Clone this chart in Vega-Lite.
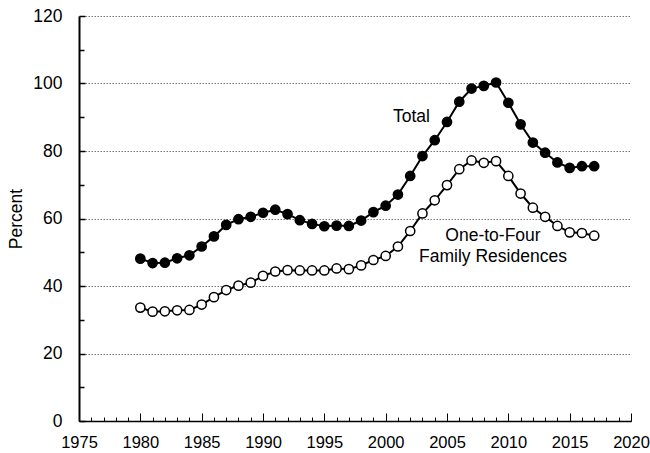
{
  "$schema": "https://vega.github.io/schema/vega-lite/v6.json",
  "width": 552,
  "height": 405,
  "autosize": {"type": "none"},
  "padding": {"left": 79, "top": 16, "right": 19, "bottom": 32},
  "background": "white",
  "config": {
    "view": {"stroke": null},
    "font": "Liberation Sans",
    "axis": {"labelFont": "Liberation Sans", "titleFont": "Liberation Sans", "labelColor": "black", "titleColor": "black", "domainColor": "black", "tickColor": "black", "labelFlush": false, "labelOverlap": false}
  },
  "resolve": {"axis": {"x": "independent", "y": "independent"}},
  "datasets": {
    "series": [
      {"year": 1980, "series": "Total", "value": 48.1},
      {"year": 1981, "series": "Total", "value": 46.8},
      {"year": 1982, "series": "Total", "value": 46.9},
      {"year": 1983, "series": "Total", "value": 48.2},
      {"year": 1984, "series": "Total", "value": 49.1},
      {"year": 1985, "series": "Total", "value": 51.7},
      {"year": 1986, "series": "Total", "value": 54.7},
      {"year": 1987, "series": "Total", "value": 58.1},
      {"year": 1988, "series": "Total", "value": 59.8},
      {"year": 1989, "series": "Total", "value": 60.5},
      {"year": 1990, "series": "Total", "value": 61.7},
      {"year": 1991, "series": "Total", "value": 62.6},
      {"year": 1992, "series": "Total", "value": 61.3},
      {"year": 1993, "series": "Total", "value": 59.5},
      {"year": 1994, "series": "Total", "value": 58.4},
      {"year": 1995, "series": "Total", "value": 57.7},
      {"year": 1996, "series": "Total", "value": 57.9},
      {"year": 1997, "series": "Total", "value": 57.8},
      {"year": 1998, "series": "Total", "value": 59.4},
      {"year": 1999, "series": "Total", "value": 61.9},
      {"year": 2000, "series": "Total", "value": 63.8},
      {"year": 2001, "series": "Total", "value": 67.1},
      {"year": 2002, "series": "Total", "value": 72.6},
      {"year": 2003, "series": "Total", "value": 78.5},
      {"year": 2004, "series": "Total", "value": 83.2},
      {"year": 2005, "series": "Total", "value": 88.6},
      {"year": 2006, "series": "Total", "value": 94.6},
      {"year": 2007, "series": "Total", "value": 98.5},
      {"year": 2008, "series": "Total", "value": 99.3},
      {"year": 2009, "series": "Total", "value": 100.3},
      {"year": 2010, "series": "Total", "value": 94.3},
      {"year": 2011, "series": "Total", "value": 87.9},
      {"year": 2012, "series": "Total", "value": 82.5},
      {"year": 2013, "series": "Total", "value": 79.5},
      {"year": 2014, "series": "Total", "value": 76.6},
      {"year": 2015, "series": "Total", "value": 75.0},
      {"year": 2016, "series": "Total", "value": 75.5},
      {"year": 2017, "series": "Total", "value": 75.5},
      {"year": 1980, "series": "One-to-Four", "value": 33.6},
      {"year": 1981, "series": "One-to-Four", "value": 32.4},
      {"year": 1982, "series": "One-to-Four", "value": 32.5},
      {"year": 1983, "series": "One-to-Four", "value": 32.8},
      {"year": 1984, "series": "One-to-Four", "value": 32.9},
      {"year": 1985, "series": "One-to-Four", "value": 34.5},
      {"year": 1986, "series": "One-to-Four", "value": 36.7},
      {"year": 1987, "series": "One-to-Four", "value": 38.8},
      {"year": 1988, "series": "One-to-Four", "value": 40.1},
      {"year": 1989, "series": "One-to-Four", "value": 41.0},
      {"year": 1990, "series": "One-to-Four", "value": 43.0},
      {"year": 1991, "series": "One-to-Four", "value": 44.3},
      {"year": 1992, "series": "One-to-Four", "value": 44.7},
      {"year": 1993, "series": "One-to-Four", "value": 44.6},
      {"year": 1994, "series": "One-to-Four", "value": 44.6},
      {"year": 1995, "series": "One-to-Four", "value": 44.6},
      {"year": 1996, "series": "One-to-Four", "value": 45.2},
      {"year": 1997, "series": "One-to-Four", "value": 45.0},
      {"year": 1998, "series": "One-to-Four", "value": 46.1},
      {"year": 1999, "series": "One-to-Four", "value": 47.7},
      {"year": 2000, "series": "One-to-Four", "value": 48.9},
      {"year": 2001, "series": "One-to-Four", "value": 51.7},
      {"year": 2002, "series": "One-to-Four", "value": 56.3},
      {"year": 2003, "series": "One-to-Four", "value": 61.5},
      {"year": 2004, "series": "One-to-Four", "value": 65.4},
      {"year": 2005, "series": "One-to-Four", "value": 69.9},
      {"year": 2006, "series": "One-to-Four", "value": 74.6},
      {"year": 2007, "series": "One-to-Four", "value": 77.2},
      {"year": 2008, "series": "One-to-Four", "value": 76.5},
      {"year": 2009, "series": "One-to-Four", "value": 77.0},
      {"year": 2010, "series": "One-to-Four", "value": 72.6},
      {"year": 2011, "series": "One-to-Four", "value": 67.4},
      {"year": 2012, "series": "One-to-Four", "value": 63.2},
      {"year": 2013, "series": "One-to-Four", "value": 60.5},
      {"year": 2014, "series": "One-to-Four", "value": 57.8},
      {"year": 2015, "series": "One-to-Four", "value": 55.9},
      {"year": 2016, "series": "One-to-Four", "value": 55.7},
      {"year": 2017, "series": "One-to-Four", "value": 54.9}
    ],
    "labels": [
      {"year": 2002.1, "value": 90.0, "text": "Total"},
      {"year": 2008.75, "value": 54.8, "text": "One-to-Four"},
      {"year": 2008.75, "value": 48.6, "text": "Family Residences"}
    ]
  },
  "layer": [
    {
      "data": {"name": "series"},
      "mark": {"type": "rule", "opacity": 0},
      "encoding": {
        "x": {"field": "year", "type": "quantitative", "scale": {"domain": [1975, 2020], "nice": false, "zero": false},
          "axis": {"orient": "bottom", "values": [1975,1976,1977,1978,1979,1980,1981,1982,1983,1984,1985,1986,1987,1988,1989,1990,1991,1992,1993,1994,1995,1996,1997,1998,1999,2000,2001,2002,2003,2004,2005,2006,2007,2008,2009,2010,2011,2012,2013,2014,2015,2016,2017,2018,2019,2020], "labels": false, "grid": false, "domain": false, "tickSize": -4, "tickWidth": 1, "title": null}},
        "y": {"field": "value", "type": "quantitative", "scale": {"domain": [0, 120], "nice": false},
          "axis": {"orient": "left", "values": [10, 30, 50, 70, 90, 110], "labels": false, "grid": false, "domain": false, "tickSize": -5, "tickWidth": 1.5, "title": null}}
      }
    },
    {
      "data": {"name": "series"},
      "mark": {"type": "line", "color": "black", "strokeWidth": 2},
      "encoding": {
        "x": {"field": "year", "type": "quantitative",
          "axis": {"orient": "bottom", "values": [1975, 1980, 1985, 1990, 1995, 2000, 2005, 2010, 2015, 2020], "format": "d", "grid": false, "domainWidth": 1.5, "tickSize": -8, "tickWidth": 1, "labelFontSize": 16.5, "labelPadding": 21, "labelBaseline": "top", "title": null}},
        "y": {"field": "value", "type": "quantitative",
          "axis": {"orient": "left", "values": [0, 20, 40, 60, 80, 100, 120], "grid": true, "gridDash": [1.5, 1.5], "gridColor": "#777777", "gridWidth": 1, "domainWidth": 2, "tickSize": -6, "tickWidth": 1.5, "labelFontSize": 17.5, "labelPadding": 23, "title": "Percent", "titleFontSize": 17.5, "titleFontWeight": "normal", "titlePadding": 7}},
        "detail": {"field": "series"}
      }
    },
    {
      "data": {"name": "series"},
      "mark": {"type": "point", "shape": "circle", "size": 85, "strokeWidth": 1.5, "opacity": 1},
      "encoding": {
        "x": {"field": "year", "type": "quantitative", "axis": null},
        "y": {"field": "value", "type": "quantitative", "axis": null},
        "fill": {"field": "series", "type": "nominal", "scale": {"domain": ["Total", "One-to-Four"], "range": ["black", "white"]}, "legend": null},
        "color": {"value": "black"}
      }
    },
    {
      "data": {"name": "labels"},
      "mark": {"type": "text", "fontSize": 17.5, "font": "Liberation Sans", "color": "black", "align": "center", "baseline": "middle"},
      "encoding": {
        "x": {"field": "year", "type": "quantitative", "axis": null},
        "y": {"field": "value", "type": "quantitative", "axis": null},
        "text": {"field": "text"}
      }
    }
  ]
}
